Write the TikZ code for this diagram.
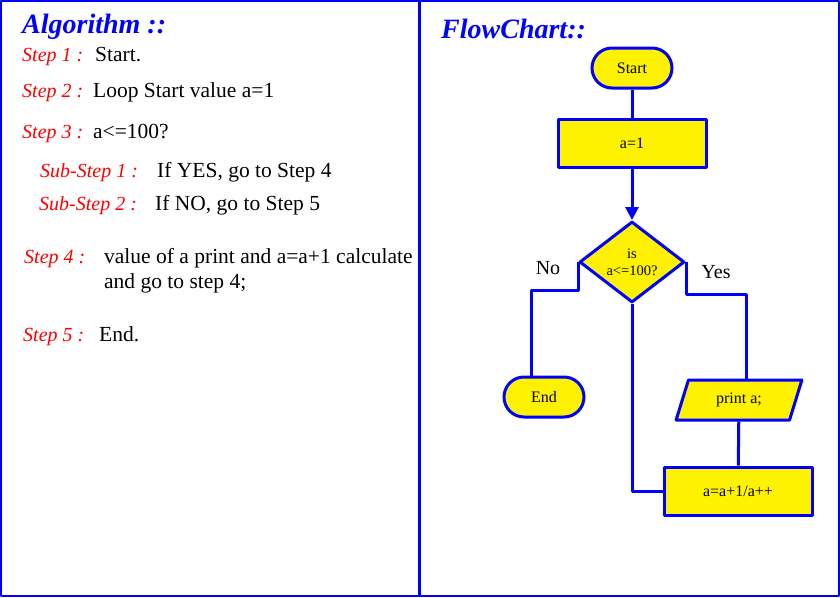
\documentclass[tikz,border=0pt]{standalone}
\usepackage{fontspec}
\setmainfont{Liberation Serif}
\usetikzlibrary{shapes.geometric,arrows.meta}
\begin{document}
\begin{tikzpicture}[x=1pt,y=-1pt,line join=round,>={Triangle[length=13pt,width=13pt]}]
		\tikzset{stepname/.style={anchor=base west,inner sep=0,text=red,font=\fontsize{20}{22}\selectfont\itshape},
		steptext/.style={anchor=base west,inner sep=0,font=\fontsize{21.5}{25}\selectfont},
		heading/.style={anchor=base west,inner sep=0,text=blue,font=\fontsize{28}{30}\selectfont\bfseries\itshape},
		fc/.style={draw=blue,fill=yellow,line width=3pt,font=\fontsize{16}{18}\selectfont,inner sep=1pt},
		term/.style={fc,rectangle,rounded corners=20pt,minimum width=80pt,minimum height=40pt},
		proc/.style={fc,rectangle,minimum width=148pt,minimum height=48pt},
		decide/.style={fc,diamond,minimum width=105pt,minimum height=81pt,align=center,inner sep=0pt,font=\fontsize{14.5}{17}\selectfont},
		io/.style={fc,trapezium,trapezium left angle=70,trapezium right angle=110,trapezium stretches=true,minimum width=126pt,minimum height=40pt},
		link/.style={blue,line width=3pt},
		branch/.style={font=\fontsize{20}{22}\selectfont}}
		\useasboundingbox (0,0) rectangle (840,597);
		\draw[blue,line width=2pt] (1,1) rectangle (839,596);
		\draw[blue,line width=3pt] (419.5,0)--(419.5,597);
		\node[heading] (algtitle) at (22,33) {Algorithm ::};
		\node[stepname] (s1) at (22,61) {Step 1 :};
		\node[steptext] (t1) at (95,61) {Start.};
		\node[stepname] (s2) at (22,97) {Step 2 :};
		\node[steptext] (t2) at (93,97) {Loop Start value a=1};
		\node[stepname] (s3) at (22,138) {Step 3 :};
		\node[steptext] (t3) at (93,138) {a<=100?};
		\node[stepname] (ss1) at (40,177) {Sub-Step 1 :};
		\node[steptext] (tt1) at (157,177) {If YES, go to Step 4};
		\node[stepname] (ss2) at (39,210) {Sub-Step 2 :};
		\node[steptext] (tt2) at (155,210) {If NO, go to Step 5};
		\node[stepname] (s4) at (24,263) {Step 4 :};
		\node[steptext] (t4) at (104,263) {value of a print and a=a+1 calculate};
		\node[steptext] (t4b) at (104,288) {and go to step 4;};
		\node[stepname] (s5) at (23,341) {Step 5 :};
		\node[steptext] (t5) at (99,341) {End.};
		\node[heading] (fctitle) at (441,38) {FlowChart::};
		\node[term] (start) at (632,68) {Start};
		\node[proc] (init) at (632,143) {a=1};
		\node[decide] (cond) at (632,262) {is\\a<=100?};
		\node[term] (stop) at (544,397) {End};
		\node[io] (show) at (739,400) {print a;};
		\node[proc] (incr) at (738,491) {a=a+1/a++};
		\coordinate (nobend) at (531,290);
		\coordinate (yesbend) at (746,294);
		\draw[link] (start)--(init);
		\draw[link,->] (init)--(cond);
		\draw[link] (cond.west) |- (nobend)--(nobend |- stop.north);
		\draw[link] (cond.east) |- (yesbend)--(yesbend |- show.north);
		\draw[link] (show)--(incr);
		\draw[link] (incr.west) -| (cond.south);
		\node[branch] (nolabel) at (548,268) {No};
		\node[branch] (yeslabel) at (716,272) {Yes};
\end{tikzpicture}
\end{document}
